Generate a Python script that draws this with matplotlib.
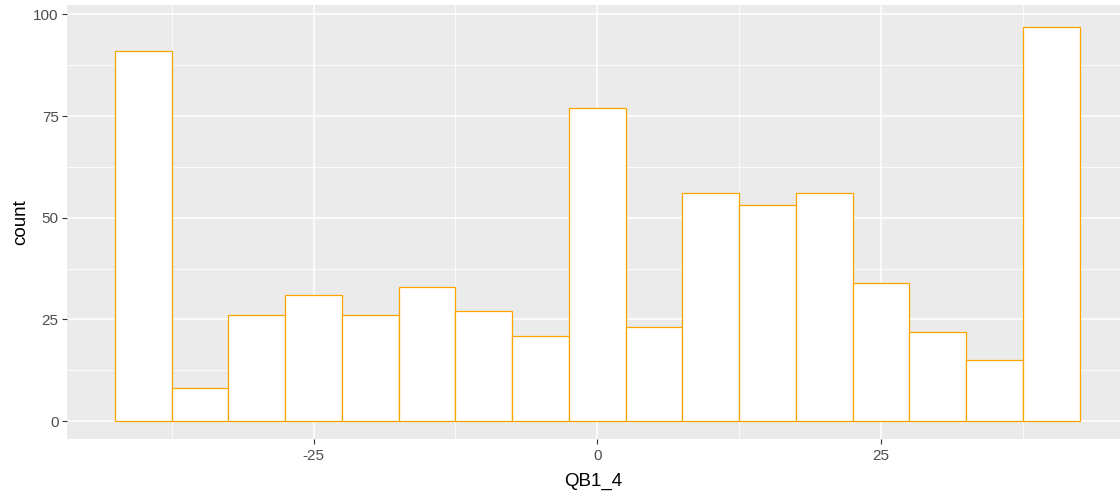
import matplotlib
matplotlib.use("Agg")
import matplotlib.pyplot as plt
import numpy as np

# Histogram of QB1_4: bin centres (width 5) and counts per bin
bin_centers = [-40, -35, -30, -25, -20, -15, -10, -5, 0, 5, 10, 15, 20, 25, 30, 35, 40]
counts = [91, 8, 26, 31, 26, 33, 27, 21, 77, 23, 56, 53, 56, 34, 22, 15, 97]
bin_width = 5

x_ticks = [-25, 0, 25]
x_minor = [-37.5, -12.5, 12.5, 37.5]
y_ticks = [0, 25, 50, 75, 100]
y_minor = [12.5, 37.5, 62.5, 87.5]

plt.rcParams['font.family'] = ['Liberation Sans', 'DejaVu Sans']

fig = plt.figure(figsize=(11.2, 4.92), dpi=100)
ax = fig.add_axes([66.7 / 1120, 53.3 / 492, 1 - 66.7 / 1120, (438.7 - 5) / 492])
ax.set_facecolor('#EBEBEB')

ax.bar(bin_centers, counts, width=bin_width, color='white',
       edgecolor='#FFA500', linewidth=0.9, zorder=3)

ax.set_xlim(-46.75, 46.05)
ax.set_ylim(-4.35, 102.3)

ax.set_xticks(x_ticks)
ax.set_xticklabels([str(t) for t in x_ticks])
ax.set_xticks(x_minor, minor=True)
ax.set_yticks(y_ticks)
ax.set_yticks(y_minor, minor=True)

ax.grid(which='major', color='white', linewidth=1.1, zorder=0)
ax.grid(which='minor', color='white', linewidth=0.55, zorder=0)
ax.set_axisbelow(True)

for s in ax.spines.values():
    s.set_visible(False)

ax.tick_params(axis='both', which='major', length=3.3, width=0.8,
               color='#333333', labelcolor='#4D4D4D', labelsize=11, pad=2.5)
ax.tick_params(axis='x', which='major', pad=4)
ax.tick_params(axis='both', which='minor', length=0)

ax.set_xlabel('QB1_4', fontsize=13.5, color='black', labelpad=7)
ax.set_ylabel('count', fontsize=13.5, color='black', labelpad=3)

fig.savefig('out.png', dpi=100, facecolor='white')
